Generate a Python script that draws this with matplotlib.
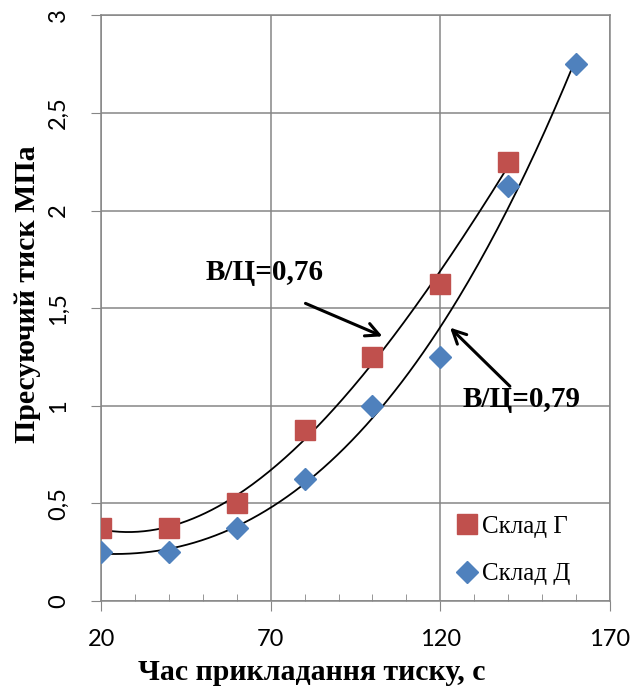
import numpy as np
import matplotlib.pyplot as plt
from matplotlib.ticker import FixedLocator, MultipleLocator, FuncFormatter

# data
time_g = [20, 40, 60, 80, 100, 120, 140]
press_g = [0.375, 0.375, 0.5, 0.875, 1.25, 1.625, 2.25]
time_d = [20, 40, 60, 80, 100, 120, 140, 160]
press_d = [0.25, 0.25, 0.375, 0.625, 1.0, 1.25, 2.125, 2.75]
x_ticks = [20, 70, 120, 170]

label_g = 'Склад Г'
label_d = 'Склад Д'
red = '#C0504D'
blue = '#4F81BD'
grid_c = '#868686'

W, H = 632, 694
fig = plt.figure(figsize=(W / 100, H / 100), dpi=100)
ax = fig.add_axes([0.160, 0.134, 0.805, 0.844])

# polynomial trend lines like in Excel
for t, p in [(time_g, press_g), (time_d, press_d)]:
    c = np.polyfit(t, p, 3)
    xs = np.linspace(min(t), max(t), 200)
    ax.plot(xs, np.polyval(c, xs), color='black', lw=1.3, zorder=2)

ax.plot(time_g, press_g, 's', color=red, ms=14, mec=red, label=label_g, zorder=3)
ax.plot(time_d, press_d, 'D', color=blue, ms=11.5, mec=blue, label=label_d, zorder=3)

ax.set_xlim(20, 170)
ax.set_ylim(0, 3)
ax.xaxis.set_major_locator(FixedLocator(x_ticks))
ax.xaxis.set_minor_locator(MultipleLocator(10))
ax.yaxis.set_major_locator(MultipleLocator(0.5))
ax.yaxis.set_major_formatter(FuncFormatter(lambda v, pos: ('%g' % v).replace('.', ',')))
ax.grid(True, which='major', color=grid_c, lw=1.1)
ax.set_axisbelow(True)
for s in ax.spines.values():
    s.set_color(grid_c)
    s.set_linewidth(1.1)

ax.tick_params(axis='both', which='major', direction='out', length=7, color=grid_c,
               labelsize=17)
ax.tick_params(axis='x', which='major', pad=13)
ax.tick_params(axis='y', which='major', pad=16)
ax.tick_params(axis='x', which='minor', direction='in', length=5, color=grid_c)
for lab in ax.get_yticklabels():
    lab.set_rotation(90)
    lab.set_va('center')
for lab in ax.get_xticklabels() + ax.get_yticklabels():
    lab.set_family('Lato')

# axis titles placed as in the reference (not centred on the plot area)
fig.text(312 / W, 1 - 672 / H, 'Час прикладання тиску, с', family='Liberation Serif',
         fontweight='bold', fontsize=21.5, ha='center', va='center')
fig.text(28 / W, 1 - 294 / H, 'Пресуючий тиск МПа', family='Liberation Serif',
         fontweight='bold', fontsize=21.5, ha='center', va='center', rotation=90)

arrow = dict(arrowstyle='->', color='black', lw=2.2, mutation_scale=24)
ax.annotate('', xy=(103.7, 1.35), xytext=(79.5, 1.53), arrowprops=arrow)
ax.annotate('', xy=(122.3, 1.41), xytext=(141.1, 1.09), arrowprops=arrow)
ax.text(68.3, 1.68, 'В/Ц=0,76', family='Liberation Serif', fontweight='bold',
        fontsize=21, ha='center', va='center')
ax.text(144, 1.03, 'В/Ц=0,79', family='Liberation Serif', fontweight='bold',
        fontsize=21, ha='center', va='center')

leg = ax.legend(loc='upper left', bbox_to_anchor=(0.69, 0.146), frameon=False,
                borderaxespad=0, borderpad=0,
                prop={'family': 'Liberation Serif', 'size': 18}, handletextpad=0.0,
                handlelength=1.2, labelspacing=1.0)

fig.savefig('out.png', dpi=100)
